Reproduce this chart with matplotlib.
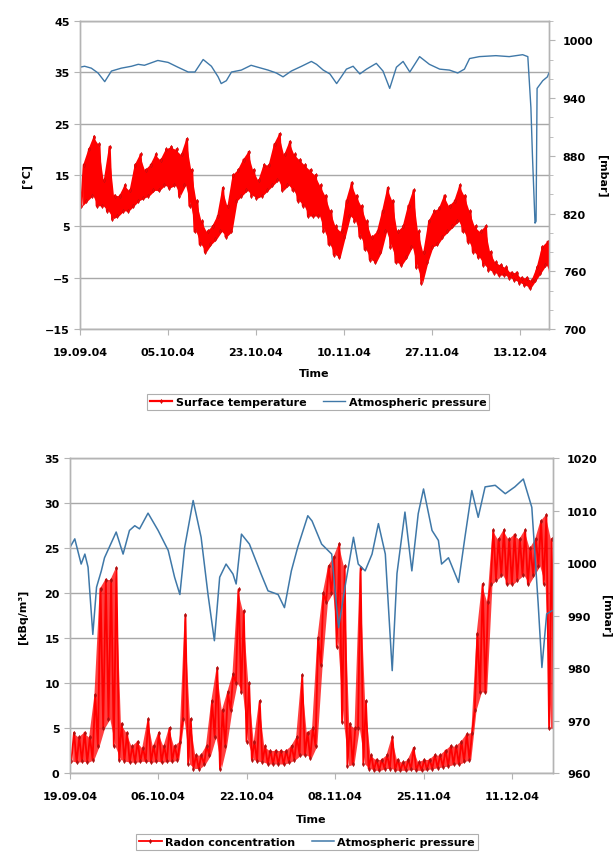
import numpy as np
import matplotlib
matplotlib.use("Agg")
import matplotlib.pyplot as plt
from matplotlib.ticker import MultipleLocator

plt.rcParams['font.family'] = ['DejaVu Sans']
plt.rcParams['font.weight'] = 'bold'

# ---------------- data: top chart ----------------
top_tick_labels = ["19.09.04", "05.10.04", "23.10.04", "10.11.04", "27.11.04", "13.12.04"]
# daily high / low surface temperature [°C], day 0 .. 91
temp_hi = [17, 20, 22.5, 21, 14, 20.5, 11, 11, 13, 12,
           17, 19, 16, 17, 19, 18, 20, 20.5, 20, 19,
           22, 16, 10, 6, 4, 5, 7, 12.5, 9, 15,
           16, 18, 19.5, 16, 14, 17, 17, 21, 23, 19,
           21.5, 19, 18, 17, 16, 15, 13, 11, 8, 5,
           4, 10, 13.5, 11, 9, 6, 3, 4, 8, 12.5,
           10, 4, 5, 9, 12, 4, 0, 6, 8, 8.5,
           11, 9, 10, 13, 11, 8, 5, 4, 5, 0,
           -2, -2.5, -3, -4, -4, -5, -5, -5.5, -3, 1,
           2, -1]
temp_lo = [9, 10, 11, 9, 9, 8, 6.5, 7, 8, 8,
           9, 10, 10.5, 11, 12, 12, 13, 12.5, 13, 11,
           13, 9, 4, 1.5, 0, 1.5, 2.5, 4, 3, 4,
           10, 11, 12, 11, 10.5, 11, 12, 13, 14, 12,
           13, 12, 10, 9, 7, 7, 7, 4, 1.5, -0.5,
           -1, 3, 7, 6, 3, 0.5, -1.5, -2, 0, 4,
           1, -2, -2.5, -1, 1, -3, -6, -2, 1, 1.5,
           3, 4, 5, 6, 4, 2, 0, -1, -2.5, -3.5,
           -4, -4.5, -4.5, -5, -5.5, -6, -6.5, -7, -5.5, -4,
           -2.5, -4.5]
# atmospheric pressure [mbar] (top chart)
p1_day = [0, 0.9, 2.2, 3.5, 4.8, 6.1, 8, 10, 11.3, 12.5, 15.1, 17.1, 19, 21, 22.3,
          23.9, 25.5, 26.8, 27.4, 28.4, 29.4, 31.3, 33.2, 34.5, 36.5, 38.1, 39.4, 41,
          43, 44.9, 45.9, 47.2, 48.5, 49.8, 50.7, 51.7, 53, 54.3, 55.6, 57.5, 58.8,
          60.1, 61.4, 62.7, 64, 65.9, 67.8, 69.8, 71.7, 73.3, 74.6, 75.6, 77.5, 80.7,
          83.3, 85.9, 86.9, 87.5, 87.8, 88.3, 88.5, 88.7, 89.8, 90.7, 91]
p1_val = [972, 973, 971, 966, 957, 968, 971, 973, 975, 974, 979, 977, 972, 967, 967,
          980, 973, 962, 955, 958, 967, 969, 974, 972, 969, 966, 962, 968,
          973, 978, 975, 969, 965, 955, 962, 970, 973, 965, 970, 976, 968,
          950, 972, 978, 967, 983, 975, 970, 969, 966, 970, 981, 983, 984,
          983, 985, 983, 930, 880, 810, 812, 950, 958, 962, 966]

# ---------------- data: bottom chart ----------------
bot_tick_labels = ["19.09.04", "06.10.04", "22.10.04", "08.11.04", "25.11.04", "11.12.04"]
# daily high / low radon concentration [kBq/m³], day 0 .. 91
radon_hi = [4.5, 4, 4.5, 4, 8.7, 20.5, 21.5, 21.5, 22.8, 5.5,
            4.5, 3, 3.5, 2.8, 6, 3, 4.5, 3, 5, 3,
            3.5, 17.6, 6, 2, 2, 3, 8, 11.7, 7, 9,
            11, 20.4, 18, 10, 3.5, 8, 3, 2.5, 2.5, 2.5,
            2.5, 3, 4, 10.9, 4.5, 5, 15, 20, 23, 24,
            25.5, 23, 5.5, 5, 22.8, 8, 2, 1.5, 1.5, 2,
            4, 1.5, 1.2, 1.5, 2.8, 1.2, 1.5, 1.5, 2, 2,
            2.5, 3, 3, 3.5, 4.3, 4.5, 15.5, 21, 19, 27,
            26, 27, 26, 26.5, 26, 27, 25, 26, 28, 28.7,
            26, 17]
radon_lo = [1.3, 1.2, 1.3, 1.2, 1.5, 3, 5, 6, 3, 1.5,
            1.3, 1.2, 1.2, 1.3, 1.3, 1.2, 1.3, 1.2, 1.3, 1.3,
            1.5, 6, 1, 0.5, 0.5, 1, 2, 4, 0.5, 3,
            7, 10, 9, 3.5, 1.5, 1.3, 1.2, 1, 1, 1,
            1, 1.2, 1.5, 2, 2, 1.7, 3, 12, 19, 20,
            14, 5.7, 0.8, 1, 5, 1, 0.5, 0.3, 0.3, 0.5,
            0.5, 0.3, 0.3, 0.3, 0.4, 0.3, 0.3, 0.4, 0.5, 0.6,
            0.7, 0.8, 1, 1, 1.3, 1.5, 7, 9, 9, 21,
            21.5, 22, 21, 21, 21.5, 22, 21, 22, 23, 21,
            5, 5]
# atmospheric pressure [mbar] (bottom chart)
p2_day = [0, 0.9, 2.1, 2.8, 3.4, 4.3, 5.0, 5.9, 6.5, 8.7, 10.0, 11.2, 12.2, 13.1, 14.7,
          16.6, 18.5, 19.7, 20.7, 21.6, 23.2, 24.7, 26.0, 27.2, 28.2, 29.4, 30.7, 31.3,
          32.3, 33.8, 36.0, 37.3, 39.2, 40.4, 41.7, 42.9, 44.8, 45.6, 47.4, 49.3, 50.1,
          50.6, 51.8, 53.4, 54.3, 55.6, 56.9, 58.1, 59.4, 60.7, 61.6, 63.1, 64.4, 65.6,
          66.6, 68.2, 69.4, 70.0, 71.3, 73.2, 74.4, 75.7, 76.9, 78.2, 80.1, 82.0, 83.8,
          85.4, 87.0, 88.2, 88.9, 89.8, 90.8]
p2_val = [1003, 1004.6, 999.8, 1001.7, 999.2, 986.4, 995.4, 998.5, 1001, 1005.9, 1001.7,
          1006.2, 1007.1, 1006.5, 1009.5, 1006.2, 1002.4, 997.3, 994, 1003, 1011.9,
          1004.9, 994, 985.2, 997.3, 999.8, 997.9, 996, 1005.5, 1003.6, 997.9, 994.7,
          994, 991.5, 998.5, 1003, 1009, 1008, 1003.6, 1001.7, 993, 987.7, 995.4,
          1004.9, 999.8, 998.5, 1001.7, 1007.5, 1001.7, 979.5, 998, 1009.7, 998.5,
          1009.4, 1014.1, 1006.2, 1004.3, 999.8, 1001, 996.3, 1004.9, 1013.8, 1008.7,
          1014.5, 1014.8, 1013.2, 1014.5, 1016, 1010.6, 992.2, 980.1, 990.3, 990.9]

# ---------------- style ----------------
RED = '#ff0000'
MARK = '#b01010'
BLUE = '#3f78a8'
GRID = '#a8a8a8'
SPINE = '#b4b4b4'
FS = 8


def zigzag(lo, hi):
    days = np.arange(len(lo))
    x = np.empty(2 * len(lo))
    y = np.empty(2 * len(lo))
    x[0::2] = days + 0.25
    x[1::2] = days + 0.75
    y[0::2] = lo
    y[1::2] = hi
    return x, y


def style_axes(ax, axr):
    for a in (ax, axr):
        for s in a.spines.values():
            s.set_color(SPINE)
            s.set_linewidth(1.0)
    ax.grid(axis='y', color=GRID, linewidth=1.0)
    ax.set_axisbelow(True)
    ax.tick_params(axis='both', labelsize=FS, colors=SPINE, labelcolor='black', length=4)
    ax.tick_params(axis='x', pad=9)
    axr.tick_params(axis='y', labelsize=FS, colors=SPINE, labelcolor='black', length=4, pad=6)
    axr.tick_params(axis='y', which='minor', colors=SPINE, length=3)


fig = plt.figure(figsize=(6.13, 8.53), dpi=100)

# ---------- top chart ----------
ax1 = fig.add_axes([0.1305, 0.6131, 0.765, 0.3611])
ax1r = ax1.twinx()
tdays = np.arange(len(temp_lo)) + 0.5
ax1.fill_between(tdays, temp_lo, temp_hi, color=RED, lw=0, zorder=2)
tx, ty = zigzag(temp_lo, temp_hi)
l1, = ax1.plot(tx, ty, color=RED, lw=1.6, marker='d', ms=2.2, mfc=RED, mec=MARK, mew=0.3,
               label='Surface temperature', zorder=3)
l2, = ax1r.plot(p1_day, p1_val, color=BLUE, lw=1.0, label='Atmospheric pressure')
ax1.set_xlim(0, 91)
ax1.set_ylim(-15, 45)
ax1.set_yticks(np.arange(-15, 46, 10))
ax1r.set_ylim(700, 1020)
ax1r.set_yticks(np.arange(700, 1001, 60))
ax1r.yaxis.set_minor_locator(MultipleLocator(20))
ax1.set_xticks(np.arange(len(top_tick_labels)) * 17.07)
ax1.set_xticklabels(top_tick_labels)
style_axes(ax1, ax1r)
ax1.set_xlabel('Time', fontsize=FS, fontweight='bold', labelpad=8)
ax1.set_ylabel('[°C]', fontsize=FS, fontweight='bold', labelpad=9)
ax1r.set_ylabel('[mbar]', fontsize=FS, fontweight='bold', rotation=270, labelpad=10)
leg1 = fig.legend(handles=[l1, l2], loc='center', bbox_to_anchor=(0.519, 0.5275),
                  ncol=2, fontsize=FS, frameon=True, fancybox=False, handlelength=2.0,
                  borderpad=0.3, columnspacing=1.5, handletextpad=0.3)
leg1.get_frame().set_edgecolor('#9a9a9a')
leg1.get_frame().set_linewidth(0.8)

# ---------- bottom chart ----------
ax2 = fig.add_axes([0.1142, 0.0926, 0.788, 0.3693])
ax2r = ax2.twinx()
rdays = np.arange(len(radon_lo)) + 0.5
ax2.fill_between(rdays, radon_lo, radon_hi, color=RED, alpha=0.75, lw=0, zorder=2)
rx, ry = zigzag(radon_lo, radon_hi)
l3, = ax2.plot(rx, ry, color=RED, lw=1.3, marker='d', ms=2.2, mfc=MARK, mec=MARK, mew=0.3,
               label='Radon concentration', zorder=3)
l4, = ax2r.plot(p2_day, p2_val, color=BLUE, lw=1.1, label='Atmospheric pressure')
ax2.set_xlim(0, 91)
ax2.set_ylim(0, 35)
ax2.set_yticks(np.arange(0, 36, 5))
ax2r.set_ylim(960, 1020)
ax2r.set_yticks(np.arange(960, 1021, 10))
ax2.set_xticks(np.arange(len(bot_tick_labels)) * 16.65)
ax2.set_xticklabels(bot_tick_labels)
style_axes(ax2, ax2r)
ax2.set_xlabel('Time', fontsize=FS, fontweight='bold', labelpad=9)
ax2.set_ylabel('[kBq/m³]', fontsize=FS, fontweight='bold', labelpad=12)
ax2r.set_ylabel('[mbar]', fontsize=FS, fontweight='bold', rotation=270, labelpad=10)
leg2 = fig.legend(handles=[l3, l4], loc='center', bbox_to_anchor=(0.501, 0.0117),
                  ncol=2, fontsize=FS, frameon=True, fancybox=False, handlelength=2.0,
                  borderpad=0.3, columnspacing=1.5, handletextpad=0.3)
leg2.get_frame().set_edgecolor('#9a9a9a')
leg2.get_frame().set_linewidth(0.8)

fig.savefig('out.png', dpi=100)
